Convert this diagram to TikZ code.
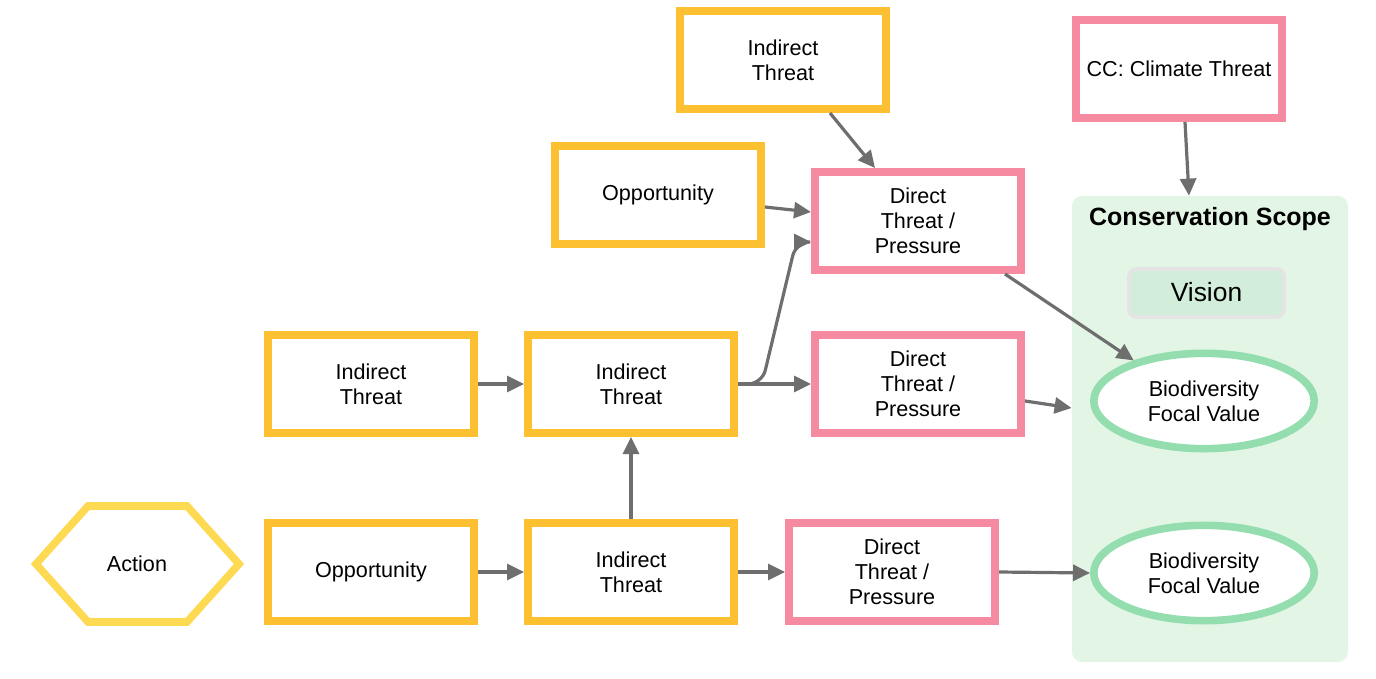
\documentclass[tikz,border=0pt]{standalone}
\usepackage{fontspec}
\setmainfont{Liberation Sans}
\usetikzlibrary{arrows.meta,shapes.geometric,calc}
\definecolor{ybord}{HTML}{FCC030}
\definecolor{pbord}{HTML}{F68AA1}
\definecolor{hexcol}{HTML}{FDDA52}
\definecolor{ellcol}{HTML}{94DDAF}
\definecolor{scopefill}{HTML}{E3F6E6}
\definecolor{visfill}{HTML}{D2EEDB}
\definecolor{visbord}{HTML}{E4E4E4}
\definecolor{arrgray}{HTML}{6E6E6E}
\begin{document}
\begin{tikzpicture}[x=0.5pt,y=-0.5pt,
  txt/.style={font=\fontsize{10.8}{12.5}\selectfont},
  box/.style={txt, draw, line width=3.8pt, fill=white, minimum width=103.2pt, minimum height=49.2pt, inner sep=0pt, align=center},
  ybox/.style={box, draw=ybord},
  pbox/.style={box, draw=pbord},
  ell/.style={txt, ellipse, draw=ellcol, line width=3.8pt, fill=white, minimum width=110.2pt, minimum height=47.7pt, inner sep=0pt, align=center},
  arr/.style={draw=arrgray, line width=1.6pt, -{Triangle[length=8.5pt,width=8pt]}}
]
\useasboundingbox (0,0) rectangle (1376,679);

% conservation scope
\node[fill=scopefill, rounded corners=5pt, minimum width=138pt, minimum height=233pt, inner sep=0pt] (scope) at (1210,429) {};
\node[font=\bfseries\fontsize{12.5}{15}\selectfont] (title) at (1210,219) {Conservation Scope};
\node[font=\fontsize{13.2}{15}\selectfont, fill=visfill, draw=visbord, line width=2pt, rounded corners=4pt, minimum width=77.5pt, minimum height=24pt, inner sep=0pt] (vision) at (1206.5,293) {\raisebox{1.5pt}{Vision}};

% action hexagon
\draw[draw=hexcol, line width=3.8pt, line join=miter, fill=white] (36,564) -- (88,506) -- (187,506) -- (239,564) -- (187,622) -- (88,622) -- cycle;
\node[txt] (action) at (137,564) {Action};

% boxes
\node[ybox] (it1) at (783,60) {Indirect\\Threat};
\node[pbox] (cc) at (1179,69) {CC: Climate Threat};
\node[ybox] (op1) at (658,195) {Opportunity};
\node[pbox] (dt1) at (918,221) {Direct\\Threat /\\Pressure};
\node[ybox] (il) at (371,384) {Indirect\\Threat};
\node[ybox] (im) at (631,384) {Indirect\\Threat};
\node[pbox] (dt2) at (918,384) {Direct\\Threat /\\Pressure};
\node[ybox] (ob) at (371,572) {Opportunity};
\node[ybox] (ib) at (631,572) {Indirect\\Threat};
\node[pbox] (db) at (892,572) {Direct\\Threat /\\Pressure};
\node[ell] (e1) at (1204,401) {Biodiversity\\Focal Value};
\node[ell] (e2) at (1204,573) {Biodiversity\\Focal Value};

% connectors
\draw[arr] ($(it1.south)+(47,0)$) -- ($(dt1.north)+(-43,0)$);
\draw[arr] ($(op1.east)+(0,12)$) -- ($(dt1.west)+(0,-9)$);
\draw[arr, rounded corners=7pt] (im.east) -- ++(24,0) -- ($(dt1.west)+(-15,21)$) -- ($(dt1.west)+(0,21)$);
\draw[arr] (im.east) -- (dt2.west);
\draw[arr] ($(dt1.south east)+(-20,0)$) -- (e1.150);
\draw[arr] ($(dt2.east)+(0,17)$) -- ($(scope.west)+(0,-21)$);
\draw[arr] (il.east) -- (im.west);
\draw[arr] (ob.east) -- (ib.west);
\draw[arr] (ib.north) -- (im.south);
\draw[arr] (ib.east) -- (db.west);
\draw[arr] (db.east) -- (e2.west);
\draw[arr] ($(cc.south)+(6,0)$) -- ($(scope.north)+(-21,0)$);
\end{tikzpicture}
\end{document}
